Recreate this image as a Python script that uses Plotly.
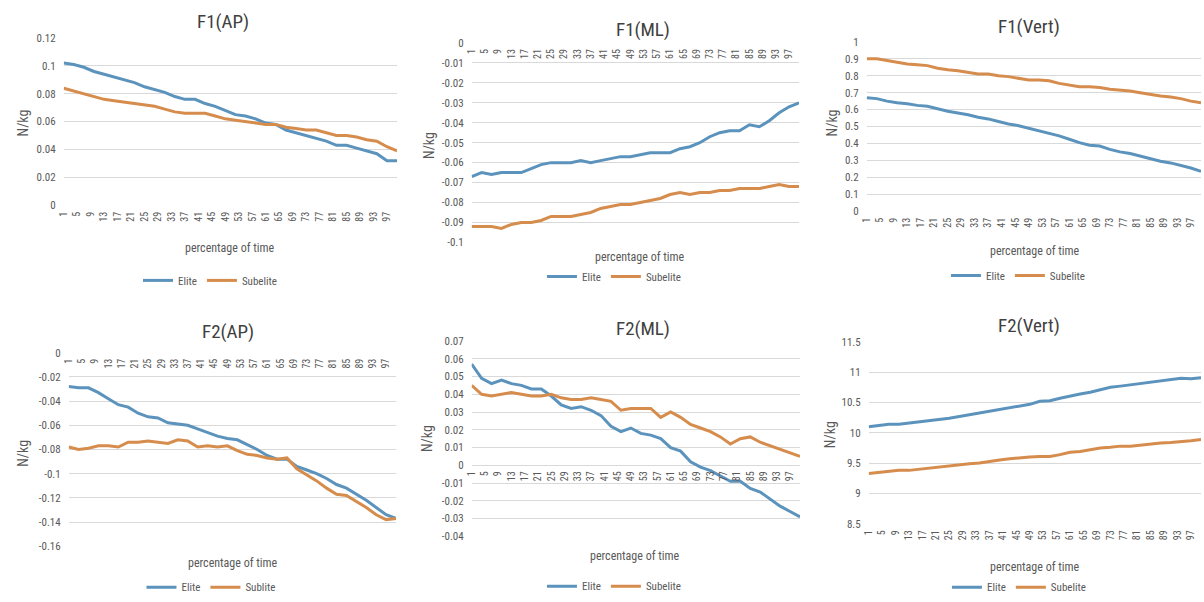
import plotly.graph_objects as go

W, H = 1204, 602

# ---------------- data ----------------
pct_time = list(range(1, 101, 3))          # percentage of time (category index)
x_tick_vals = list(range(1, 101, 4))
x_tick_text = [str(v) for v in x_tick_vals]

f1ap_elite = [0.102, 0.101, 0.099, 0.096, 0.094, 0.092, 0.090, 0.088, 0.085, 0.083,
              0.081, 0.078, 0.076, 0.076, 0.073, 0.071, 0.068, 0.065, 0.064, 0.062,
              0.059, 0.058, 0.054, 0.052, 0.050, 0.048, 0.046, 0.043, 0.043, 0.041,
              0.039, 0.037, 0.032, 0.032]
f1ap_sub = [0.084, 0.082, 0.080, 0.078, 0.076, 0.075, 0.074, 0.073, 0.072, 0.071,
            0.069, 0.067, 0.066, 0.066, 0.066, 0.064, 0.062, 0.061, 0.060, 0.059,
            0.058, 0.058, 0.056, 0.055, 0.054, 0.054, 0.052, 0.050, 0.050, 0.049,
            0.047, 0.046, 0.042, 0.039]

f1ml_elite = [-0.067, -0.065, -0.066, -0.065, -0.065, -0.065, -0.063, -0.061, -0.060, -0.060,
              -0.060, -0.059, -0.060, -0.059, -0.058, -0.057, -0.057, -0.056, -0.055, -0.055,
              -0.055, -0.053, -0.052, -0.050, -0.047, -0.045, -0.044, -0.044, -0.041, -0.042,
              -0.039, -0.035, -0.032, -0.030]
f1ml_sub = [-0.092, -0.092, -0.092, -0.093, -0.091, -0.090, -0.090, -0.089, -0.087, -0.087,
            -0.087, -0.086, -0.085, -0.083, -0.082, -0.081, -0.081, -0.080, -0.079, -0.078,
            -0.076, -0.075, -0.076, -0.075, -0.075, -0.074, -0.074, -0.073, -0.073, -0.073,
            -0.072, -0.071, -0.072, -0.072]

f1vert_elite = [0.670, 0.665, 0.650, 0.640, 0.635, 0.625, 0.620, 0.605, 0.590, 0.580,
                0.570, 0.555, 0.545, 0.530, 0.515, 0.505, 0.490, 0.475, 0.460, 0.445,
                0.425, 0.405, 0.390, 0.385, 0.365, 0.350, 0.340, 0.325, 0.310, 0.295,
                0.285, 0.270, 0.255, 0.235]
f1vert_sub = [0.900, 0.900, 0.890, 0.880, 0.870, 0.865, 0.860, 0.845, 0.835, 0.830,
              0.820, 0.810, 0.810, 0.800, 0.795, 0.785, 0.775, 0.775, 0.770, 0.755,
              0.745, 0.735, 0.735, 0.730, 0.720, 0.715, 0.710, 0.700, 0.690, 0.680,
              0.675, 0.665, 0.650, 0.640]

f2ap_elite = [-0.028, -0.029, -0.029, -0.033, -0.038, -0.043, -0.045, -0.050, -0.053, -0.054,
              -0.058, -0.059, -0.060, -0.063, -0.066, -0.069, -0.071, -0.072, -0.076, -0.080,
              -0.085, -0.088, -0.088, -0.094, -0.097, -0.100, -0.104, -0.109, -0.112, -0.117,
              -0.122, -0.128, -0.134, -0.137]
f2ap_sub = [-0.078, -0.080, -0.079, -0.077, -0.077, -0.078, -0.074, -0.074, -0.073, -0.074,
            -0.075, -0.072, -0.073, -0.078, -0.077, -0.078, -0.077, -0.081, -0.084, -0.085,
            -0.087, -0.088, -0.087, -0.096, -0.101, -0.106, -0.112, -0.117, -0.118, -0.123,
            -0.128, -0.134, -0.138, -0.137]

f2ml_elite = [0.057, 0.049, 0.046, 0.048, 0.046, 0.045, 0.043, 0.043, 0.039, 0.034,
              0.032, 0.033, 0.031, 0.028, 0.022, 0.019, 0.021, 0.018, 0.017, 0.015,
              0.010, 0.008, 0.002, -0.001, -0.003, -0.006, -0.009, -0.009, -0.013, -0.015,
              -0.019, -0.023, -0.026, -0.029]
f2ml_sub = [0.045, 0.040, 0.039, 0.040, 0.041, 0.040, 0.039, 0.039, 0.040, 0.038,
            0.037, 0.037, 0.038, 0.037, 0.036, 0.031, 0.032, 0.032, 0.032, 0.027,
            0.030, 0.027, 0.023, 0.021, 0.019, 0.016, 0.012, 0.015, 0.016, 0.013,
            0.011, 0.009, 0.007, 0.005]

f2vert_elite = [10.10, 10.12, 10.14, 10.14, 10.16, 10.17, 10.20, 10.22, 10.24, 10.27,
                10.30, 10.33, 10.36, 10.38, 10.41, 10.44, 10.47, 10.52, 10.53, 10.57,
                10.61, 10.64, 10.67, 10.71, 10.75, 10.77, 10.79, 10.82, 10.84, 10.85,
                10.87, 10.90, 10.89, 10.91]
f2vert_sub = [9.33, 9.35, 9.37, 9.38, 9.38, 9.40, 9.42, 9.43, 9.46, 9.48,
              9.49, 9.50, 9.53, 9.55, 9.57, 9.59, 9.60, 9.61, 9.61, 9.64,
              9.68, 9.69, 9.72, 9.75, 9.76, 9.78, 9.78, 9.80, 9.82, 9.83,
              9.84, 9.85, 9.87, 9.89]

panel_titles = ["F1(AP)", "F1(ML)", "F1(Vert)", "F2(AP)", "F2(ML)", "F2(Vert)"]
elite_series = [f1ap_elite, f1ml_elite, f1vert_elite, f2ap_elite, f2ml_elite, f2vert_elite]
sub_series = [f1ap_sub, f1ml_sub, f1vert_sub, f2ap_sub, f2ml_sub, f2vert_sub]
elite_names = ["Elite"] * 6
sub_names = ["Subelite", "Subelite", "Subelite", "Sublite", "Subelite", "Subelite"]

y_ticks = [
    [0, 0.02, 0.04, 0.06, 0.08, 0.1, 0.12],
    [0, -0.01, -0.02, -0.03, -0.04, -0.05, -0.06, -0.07, -0.08, -0.09, -0.1],
    [0, 0.1, 0.2, 0.3, 0.4, 0.5, 0.6, 0.7, 0.8, 0.9, 1],
    [0, -0.02, -0.04, -0.06, -0.08, -0.1, -0.12, -0.14, -0.16],
    [0.07, 0.06, 0.05, 0.04, 0.03, 0.02, 0.01, 0, -0.01, -0.02, -0.03, -0.04],
    [8.5, 9, 9.5, 10, 10.5, 11, 11.5],
]
y_tick_text = [
    ["0", "0.02", "0.04", "0.06", "0.08", "0.1", "0.12"],
    ["0", "-0.01", "-0.02", "-0.03", "-0.04", "-0.05", "-0.06", "-0.07", "-0.08", "-0.09", "-0.1"],
    ["0", "0.1", "0.2", "0.3", "0.4", "0.5", "0.6", "0.7", "0.8", "0.9", "1"],
    ["0", "-0.02", "-0.04", "-0.06", "-0.08", "-0.1", "-0.12", "-0.14", "-0.16"],
    ["0.07", "0.06", "0.05", "0.04", "0.03", "0.02", "0.01", "0", "-0.01", "-0.02", "-0.03", "-0.04"],
    ["8.5", "9", "9.5", "10", "10.5", "11", "11.5"],
]

# ---------------- layout (pixel geometry) ----------------
# plot area: x0, x1, ytop, ybottom (pixels)
plot_px = [(58, 393, 33, 205), (468, 797, 38, 243), (865, 1201, 37, 211),
           (63, 392, 354, 553), (468, 798, 342, 543), (867, 1201, 343, 530)]
title_px = [(218, 17), (640, 25), (1028, 22), (223, 333), (640, 330), (1028, 327)]
xtitle_px = [(225, 248), (637, 257), (1034, 251), (228, 569), (632, 562), (1034, 573)]
ytitle_px = [(17, 120), (425, 143), (830, 120), (17, 457), (423, 442), (828, 438)]
legend_px = [(205, 281), (611, 277), (1017, 276), (206, 594), (611, 593), (1018, 594)]
axis_at_zero = [False, True, False, True, True, False]

BLUE = "#5b93bd"
ORANGE = "#d68c4c"
FONT = "Liberation Sans Narrow, Arial Narrow, Roboto Condensed, Roboto, Liberation Sans, sans-serif"
GRID = "#d9d9d9"
TXT = "#595959"

fig = go.Figure()
layout = dict(
    width=W, height=H, autosize=False,
    margin=dict(l=0, r=0, t=0, b=0),
    paper_bgcolor="white", plot_bgcolor="white",
    font=dict(family=FONT, color=TXT),
    hovermode=False,
    annotations=[],
)

def px_x(v):
    return v / W

def px_y(v):
    return 1 - v / H

for i in range(6):
    n = i + 1
    xa = "x" if n == 1 else f"x{n}"
    ya = "y" if n == 1 else f"y{n}"
    lg = "legend" if n == 1 else f"legend{n}"
    x0, x1, yt, yb = plot_px[i]
    lo, hi = min(y_ticks[i]), max(y_ticks[i])
    pad = (hi - lo) * 0.004
    ydom = [px_y(yb), px_y(yt)]

    fig.add_trace(go.Scatter(x=pct_time, y=elite_series[i], name=elite_names[i], mode="lines",
                             line=dict(color=BLUE, width=3), xaxis=xa, yaxis=ya, legend=lg))
    fig.add_trace(go.Scatter(x=pct_time, y=sub_series[i], name=sub_names[i], mode="lines",
                             line=dict(color=ORANGE, width=3), xaxis=xa, yaxis=ya, legend=lg))

    xkey = "xaxis" if n == 1 else f"xaxis{n}"
    ykey = "yaxis" if n == 1 else f"yaxis{n}"
    xaxis = dict(domain=[px_x(x0), px_x(x1)], range=[1, 100], tickmode="array",
                 tickvals=x_tick_vals, ticktext=x_tick_text, tickangle=-90,
                 tickfont=dict(size=10, color=TXT, family=FONT), showgrid=False,
                 zeroline=False, showline=False, ticks="", ticklabelstandoff=3,
                 ticklabeloverflow="allow", fixedrange=True)
    if axis_at_zero[i]:
        frac = (0 - (lo - pad)) / ((hi + pad) - (lo - pad))
        xaxis.update(anchor="free", position=ydom[0] + frac * (ydom[1] - ydom[0]))
    else:
        xaxis.update(anchor=ya)
    layout[xkey] = xaxis
    layout[ykey] = dict(domain=ydom, range=[lo - pad, hi + pad], anchor=xa,
                        tickmode="array", tickvals=y_ticks[i], ticktext=y_tick_text[i],
                        tickfont=dict(size=11, color=TXT, family=FONT),
                        showgrid=True, gridcolor=GRID, gridwidth=1, zeroline=False,
                        showline=False, ticks="", ticklabelstandoff=7, fixedrange=True)
    layout[lg] = dict(x=px_x(legend_px[i][0]), y=px_y(legend_px[i][1]), xanchor="center",
                      yanchor="middle", orientation="h", bgcolor="rgba(0,0,0,0)",
                      font=dict(size=11, color=TXT, family=FONT), itemwidth=30,
                      tracegroupgap=0)

    layout["annotations"] += [
        dict(text=panel_titles[i], x=px_x(title_px[i][0]), y=px_y(title_px[i][1]),
             xref="paper", yref="paper", showarrow=False, xanchor="center", yanchor="middle",
             font=dict(size=19, color="#404040", family=FONT)),
        dict(text="percentage of time", x=px_x(xtitle_px[i][0]), y=px_y(xtitle_px[i][1]),
             xref="paper", yref="paper", showarrow=False, xanchor="center", yanchor="middle",
             font=dict(size=12, color=TXT, family=FONT)),
        dict(text="N/kg", x=px_x(ytitle_px[i][0]), y=px_y(ytitle_px[i][1]), textangle=-90,
             xref="paper", yref="paper", showarrow=False, xanchor="center", yanchor="middle",
             font=dict(size=14, color=TXT, family=FONT)),
    ]

fig.update_layout(**layout)
fig.write_html(
    "out.html",
    config={"displayModeBar": False, "staticPlot": True},
    post_script="document.body.style.margin='0';document.body.style.padding='0';"
                "document.documentElement.style.overflow='hidden';",
)
